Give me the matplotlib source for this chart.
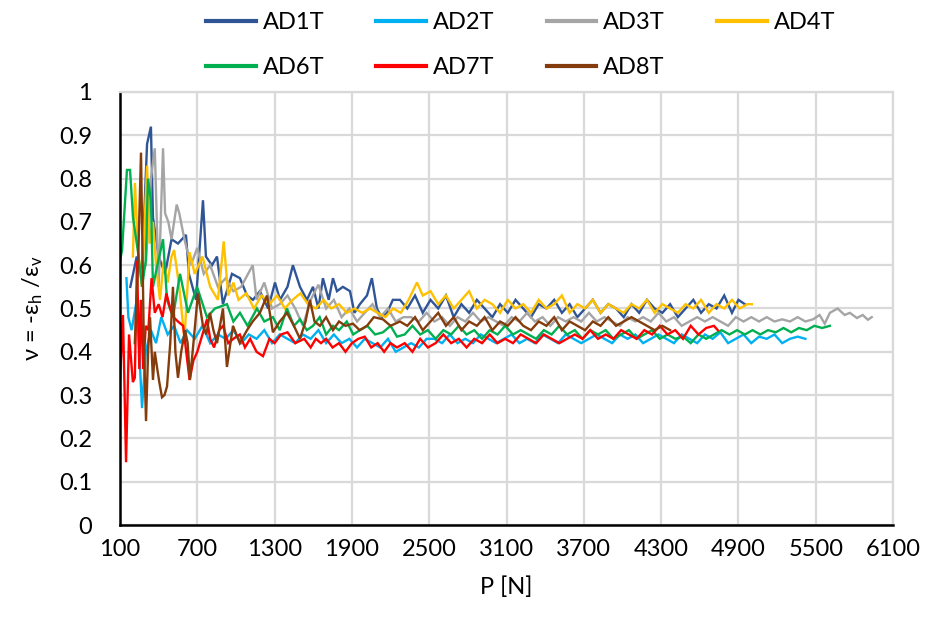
import matplotlib
matplotlib.use('Agg')
import matplotlib.pyplot as plt

plt.rcParams['font.family'] = ['Lato', 'DejaVu Sans']
plt.rcParams['mathtext.default'] = 'regular'

# ---- data (P in N, v = -eh/ev) ----
ad1t_p = [180, 230, 270, 310, 340, 356, 400, 450, 500, 550, 612, 635, 690, 744, 767, 814, 853, 899, 969, 1031,
          1086, 1132, 1186, 1250, 1303, 1342, 1400, 1442, 1497, 1551, 1598, 1640, 1675, 1720, 1753, 1784, 1830, 1885,
          1920, 1962, 2017, 2055, 2094, 2130, 2172, 2218, 2273,
          2330, 2390, 2450, 2510, 2570, 2630, 2690, 2750, 2810, 2870, 2930, 2990, 3050, 3110, 3170, 3230, 3290, 3350,
          3410, 3470, 3530, 3590, 3650, 3710, 3770, 3830, 3890, 3950, 4010, 4070, 4130, 4190, 4250, 4310, 4370, 4430,
          4490, 4550, 4610, 4670, 4730, 4790, 4850, 4900, 4950]
ad1t_v = [0.55, 0.62, 0.58, 0.88, 0.92, 0.71, 0.62, 0.58, 0.66, 0.65, 0.67, 0.58, 0.52, 0.75, 0.62, 0.60, 0.62, 0.51,
          0.58, 0.57, 0.53, 0.52, 0.54, 0.50, 0.56, 0.52, 0.55, 0.60, 0.55, 0.52, 0.55, 0.50, 0.57, 0.52, 0.57, 0.54,
          0.55, 0.54, 0.49, 0.51, 0.53, 0.57, 0.50, 0.48, 0.49, 0.52, 0.52,
          0.50, 0.53, 0.49, 0.52, 0.50, 0.53, 0.48, 0.51, 0.49, 0.52, 0.50, 0.48, 0.51, 0.49, 0.52, 0.50, 0.48, 0.51,
          0.50, 0.52, 0.49, 0.51, 0.48, 0.50, 0.52, 0.49, 0.51, 0.50, 0.48, 0.51, 0.49, 0.52, 0.50, 0.49, 0.51, 0.48,
          0.50, 0.52, 0.49, 0.51, 0.50, 0.53, 0.49, 0.52, 0.51]

ad2t_p = [150, 165, 190, 230, 271, 300, 340, 380, 420, 470, 520, 570, 620, 680, 740, 800, 860, 920, 980, 1040,
          1100, 1160, 1220, 1280, 1340, 1400, 1460, 1520, 1580, 1640, 1700, 1760, 1820, 1880, 1940, 2000, 2060, 2120,
          2180, 2240, 2300, 2360, 2420, 2480,
          2540, 2600, 2660, 2720, 2780, 2840, 2900, 2960, 3020, 3080, 3140, 3200, 3260, 3320, 3380, 3440, 3500, 3560,
          3620, 3680, 3740, 3800, 3860, 3920, 3980, 4040, 4100, 4160, 4220, 4280, 4340, 4400, 4460, 4520, 4580, 4640,
          4700, 4760, 4820, 4880, 4940, 5000, 5060, 5120, 5180, 5240, 5300, 5360, 5420]
ad2t_v = [0.57, 0.48, 0.45, 0.52, 0.27, 0.40, 0.45, 0.42, 0.48, 0.44, 0.46, 0.42, 0.45, 0.43, 0.46, 0.42, 0.44, 0.43,
          0.45, 0.42, 0.44, 0.43, 0.45, 0.42, 0.44, 0.43, 0.42, 0.44, 0.43, 0.45, 0.42, 0.44, 0.42, 0.43, 0.41, 0.43,
          0.42, 0.41, 0.43, 0.40, 0.41, 0.42, 0.41, 0.43,
          0.43, 0.42, 0.44, 0.42, 0.43, 0.42, 0.44, 0.43, 0.42, 0.43, 0.44, 0.42, 0.43, 0.42, 0.44, 0.43, 0.42, 0.44,
          0.43, 0.42, 0.43, 0.44, 0.43, 0.42, 0.44, 0.43, 0.44, 0.42, 0.43, 0.44, 0.43, 0.42, 0.44, 0.43, 0.42, 0.44,
          0.43, 0.445, 0.42, 0.43, 0.44, 0.42, 0.435, 0.43, 0.44, 0.42, 0.43, 0.435, 0.43]

ad3t_p = [300, 340, 370, 400, 434, 450, 475, 500, 540, 560, 600, 650, 700, 750, 800, 860, 920, 980, 1040, 1130,
          1160, 1220, 1280, 1340, 1400, 1460, 1520, 1580, 1640, 1700, 1760, 1820, 1880, 1940, 2000, 2060, 2120, 2180,
          2240, 2300,
          2360, 2420, 2480, 2540, 2600, 2660, 2720, 2780, 2840, 2900, 2960, 3020, 3080, 3140, 3200, 3260, 3320, 3380,
          3440, 3500, 3560, 3620, 3680, 3740, 3800, 3860, 3920, 3980, 4040, 4100, 4160, 4220, 4280, 4340, 4400, 4460,
          4520, 4580, 4640, 4700, 4760, 4820, 4880, 4940, 5000,
          5060, 5120, 5180, 5240, 5300, 5360, 5420, 5480, 5530, 5570, 5610, 5670, 5725, 5765, 5820, 5865, 5905, 5935]
ad3t_v = [0.60, 0.80, 0.87, 0.55, 0.87, 0.72, 0.70, 0.66, 0.74, 0.72, 0.66, 0.60, 0.64, 0.58, 0.60, 0.55, 0.57, 0.54,
          0.55, 0.60, 0.52, 0.56, 0.50, 0.51, 0.53, 0.50, 0.46, 0.52, 0.555, 0.50, 0.52, 0.48, 0.50, 0.47, 0.49, 0.51,
          0.48, 0.50, 0.47, 0.48,
          0.48, 0.47, 0.49, 0.47, 0.48, 0.46, 0.48, 0.47, 0.49, 0.47, 0.48, 0.47, 0.46, 0.48, 0.47, 0.49, 0.47, 0.48,
          0.46, 0.48, 0.47, 0.48, 0.47, 0.49, 0.47, 0.48, 0.47, 0.46, 0.48, 0.47, 0.48, 0.47, 0.49, 0.47, 0.48, 0.46,
          0.47, 0.48, 0.47, 0.48, 0.47, 0.46, 0.48, 0.47, 0.48,
          0.47, 0.48, 0.47, 0.475, 0.47, 0.48, 0.47, 0.475, 0.485, 0.465, 0.49, 0.50, 0.485, 0.49, 0.478, 0.485, 0.474,
          0.48]

ad4t_p = [200, 216, 240, 270, 310, 330, 356, 380, 410, 440, 470, 500, 520, 560, 600, 640, 680, 740, 800, 860,
          905, 940, 980, 1020, 1080, 1140, 1200, 1260, 1320, 1380, 1440, 1500, 1560, 1620, 1680, 1740, 1800, 1860,
          1920, 1980, 2040, 2100, 2160, 2220, 2280, 2340, 2405, 2450,
          2510, 2570, 2630, 2690, 2750, 2810, 2870, 2930, 2990, 3050, 3110, 3170, 3230, 3290, 3350, 3410, 3470, 3530,
          3590, 3650, 3710, 3770, 3830, 3890, 3950, 4010, 4070, 4130, 4190, 4250, 4310, 4370, 4430, 4490, 4550, 4610,
          4670, 4730, 4790, 4850, 4910, 4970, 5005]
ad4t_v = [0.62, 0.79, 0.635, 0.55, 0.83, 0.65, 0.70, 0.60, 0.52, 0.61, 0.56, 0.62, 0.635, 0.55, 0.43, 0.63, 0.58, 0.62,
          0.55, 0.52, 0.655, 0.53, 0.56, 0.52, 0.535, 0.50, 0.53, 0.51, 0.53, 0.50, 0.52, 0.535, 0.51, 0.50, 0.52, 0.50,
          0.51, 0.49, 0.50, 0.49, 0.50, 0.49, 0.48, 0.50, 0.49, 0.52, 0.56, 0.53,
          0.54, 0.51, 0.53, 0.50, 0.52, 0.54, 0.50, 0.52, 0.51, 0.49, 0.52, 0.50, 0.51, 0.49, 0.52, 0.50, 0.51, 0.53,
          0.49, 0.51, 0.50, 0.52, 0.49, 0.51, 0.50, 0.49, 0.51, 0.50, 0.52, 0.49, 0.51, 0.50, 0.49, 0.51, 0.50, 0.52,
          0.49, 0.51, 0.50, 0.52, 0.50, 0.51, 0.51]

ad6t_p = [100, 116, 154, 178, 201, 240, 271, 300, 317, 340, 356, 390, 434, 465, 511, 566, 628, 698, 775, 837,
          930, 980, 1031, 1090, 1163, 1220, 1287, 1340, 1396, 1450, 1497, 1550, 1598, 1650, 1700, 1753, 1800, 1860,
          1910, 1962, 2020, 2080, 2141, 2200, 2250,
          2310, 2370, 2430, 2490, 2550, 2610, 2670, 2730, 2790, 2850, 2910, 2970, 3030, 3090, 3150, 3210, 3270, 3330,
          3390, 3450, 3510, 3570, 3630, 3690, 3750, 3810, 3870, 3930, 3990, 4050, 4110, 4170, 4230, 4290, 4350, 4410,
          4470, 4530, 4590, 4650, 4710, 4770, 4830, 4890, 4950, 5010, 5070, 5130, 5190, 5250, 5310, 5370, 5430, 5490,
          5550, 5610]
ad6t_v = [0.61, 0.635, 0.82, 0.82, 0.71, 0.63, 0.55, 0.61, 0.80, 0.75, 0.55, 0.60, 0.66, 0.52, 0.48, 0.58, 0.49, 0.55,
          0.48, 0.50, 0.51, 0.47, 0.49, 0.46, 0.50, 0.47, 0.48, 0.45, 0.50, 0.46, 0.475, 0.45, 0.46, 0.48, 0.44, 0.46,
          0.45, 0.47, 0.44, 0.45, 0.46, 0.44, 0.445, 0.46, 0.435,
          0.44, 0.46, 0.44, 0.45, 0.43, 0.45, 0.44, 0.46, 0.44, 0.45, 0.43, 0.45, 0.44, 0.46, 0.44, 0.45, 0.44, 0.43,
          0.45, 0.44, 0.46, 0.44, 0.45, 0.43, 0.45, 0.44, 0.45, 0.43, 0.44, 0.45, 0.43, 0.44, 0.45, 0.43, 0.44, 0.43,
          0.435, 0.42, 0.44, 0.43, 0.44, 0.45, 0.44, 0.45, 0.44, 0.45, 0.44, 0.45, 0.445, 0.455, 0.445, 0.455, 0.45,
          0.46, 0.455, 0.46]

ad7t_p = [100, 123, 147, 170, 200, 215, 232, 250, 262, 280, 300, 320, 345, 370, 400, 430, 460, 490, 515, 550,
          590, 640, 670, 700, 740, 775, 800, 830, 870, 900, 940, 980, 1030, 1070, 1110, 1160, 1210, 1260, 1300, 1350,
          1400, 1460, 1530, 1580, 1620, 1660, 1700, 1750, 1800, 1850, 1900, 1950, 2000, 2050, 2100, 2150, 2200, 2250,
          2310, 2370, 2430, 2490, 2550, 2610, 2670, 2730, 2790, 2850, 2910, 2970, 3030, 3090, 3150, 3210, 3270, 3330,
          3390, 3450, 3510, 3570, 3630, 3690, 3750, 3810, 3870, 3930, 3990, 4050, 4110, 4170, 4230, 4290, 4350, 4410,
          4470, 4530, 4590, 4650, 4710, 4740]
ad7t_v = [0.335, 0.485, 0.145, 0.44, 0.33, 0.34, 0.61, 0.36, 0.52, 0.36, 0.46, 0.45, 0.57, 0.49, 0.51, 0.48, 0.535,
          0.50, 0.48, 0.47, 0.46, 0.335, 0.38, 0.40, 0.44, 0.475, 0.43, 0.41, 0.45, 0.46, 0.42, 0.43, 0.44, 0.41, 0.43,
          0.40, 0.39, 0.43, 0.42, 0.44, 0.445, 0.42, 0.43, 0.41, 0.43, 0.42, 0.43, 0.41, 0.42, 0.40, 0.42, 0.43, 0.435,
          0.41, 0.42, 0.40, 0.42, 0.41,
          0.42, 0.40, 0.43, 0.41, 0.42, 0.44, 0.42, 0.43, 0.41, 0.43, 0.42, 0.44, 0.42, 0.43, 0.42, 0.44, 0.43, 0.42,
          0.44, 0.43, 0.42, 0.43, 0.44, 0.43, 0.45, 0.43, 0.44, 0.43, 0.45, 0.44, 0.43, 0.45, 0.44, 0.46, 0.44, 0.45,
          0.43, 0.46, 0.44, 0.455, 0.46, 0.45]

ad8t_p = [215, 240, 263, 285, 302, 318, 333, 356, 370, 387, 405, 426, 445, 465, 490, 511, 530, 550, 575, 605,
          625, 643, 670, 705, 744, 770, 798, 825, 853, 899, 930, 977, 1030, 1086, 1130, 1186, 1241, 1287, 1340, 1396,
          1450, 1497, 1540, 1574, 1610, 1652, 1700, 1753, 1800, 1850, 1908, 1960, 2017, 2070, 2141, 2200, 2273,
          2330, 2390, 2450, 2510, 2570, 2630, 2690, 2750, 2810, 2870, 2930, 2990, 3050, 3110, 3170, 3230, 3290, 3350,
          3410, 3470, 3530, 3590, 3650, 3710, 3770, 3830, 3890, 3950, 4010, 4070, 4130, 4190, 4250, 4310, 4370]
ad8t_v = [0.42, 0.60, 0.86, 0.42, 0.24, 0.40, 0.48, 0.335, 0.40, 0.365, 0.33, 0.295, 0.30, 0.32, 0.42, 0.55, 0.40,
          0.34, 0.40, 0.45, 0.42, 0.335, 0.42, 0.535, 0.46, 0.44, 0.49, 0.45, 0.42, 0.50, 0.365, 0.46, 0.42, 0.45,
          0.47, 0.49, 0.53, 0.445, 0.47, 0.49, 0.46, 0.43, 0.47, 0.52, 0.47, 0.46, 0.48, 0.45, 0.47, 0.46, 0.465,
          0.45, 0.46, 0.48, 0.475, 0.46, 0.47,
          0.46, 0.48, 0.45, 0.47, 0.49, 0.46, 0.48, 0.45, 0.47, 0.46, 0.48, 0.45, 0.47, 0.46, 0.48, 0.46, 0.45, 0.47,
          0.46, 0.48, 0.45, 0.47, 0.46, 0.45, 0.47, 0.46, 0.48, 0.46, 0.47, 0.48, 0.47, 0.46, 0.45, 0.46, 0.45]

labels = ['AD1T', 'AD2T', 'AD3T', 'AD4T', 'AD6T', 'AD7T', 'AD8T']
colors = ['#2F5597', '#00B0F0', '#A5A5A5', '#FFC000', '#00B050', '#FF0000', '#843C0C']
x_ticks = [100, 700, 1300, 1900, 2500, 3100, 3700, 4300, 4900, 5500, 6100]
y_ticks = [0, 0.1, 0.2, 0.3, 0.4, 0.5, 0.6, 0.7, 0.8, 0.9, 1]
y_tick_labels = ['0', '0.1', '0.2', '0.3', '0.4', '0.5', '0.6', '0.7', '0.8', '0.9', '1']

series = [(ad1t_p, ad1t_v), (ad2t_p, ad2t_v), (ad3t_p, ad3t_v), (ad4t_p, ad4t_v),
          (ad6t_p, ad6t_v), (ad7t_p, ad7t_v), (ad8t_p, ad8t_v)]

fig = plt.figure(figsize=(9.27, 6.23), dpi=100)
ax = fig.add_axes([120 / 927, 1 - 525 / 623, 773 / 927, 433 / 623])

lines = []
for (p, v), lab, col in zip(series, labels, colors):
    ln, = ax.plot(p, v, color=col, lw=1.7, label=lab, solid_joinstyle='miter')
    lines.append(ln)

ax.set_xlim(100, 6100)
ax.set_ylim(0, 1)
ax.set_xticks(x_ticks)
ax.set_yticks(y_ticks)
ax.set_yticklabels(y_tick_labels)
ax.grid(True, color='#D9D9D9', lw=1.6)
ax.set_axisbelow(True)
ax.tick_params(axis='both', length=0, labelsize=17)
ax.tick_params(axis='y', pad=20)
ax.tick_params(axis='x', pad=10)
for s in ['top', 'right']:
    ax.spines[s].set_color('#D9D9D9')
    ax.spines[s].set_linewidth(1.6)
for s in ['left', 'bottom']:
    ax.spines[s].set_color('black')
    ax.spines[s].set_linewidth(1.8)

ax.set_xlabel('P [N]', fontsize=17, labelpad=12)
ax.set_ylabel(r'ν = -ε$_{h}$ /ε$_{v}$', fontsize=17, labelpad=10)

# legend filled column-wise, so reorder to get row-wise reading
order = [0, 4, 1, 5, 2, 6, 3]
fig.legend([lines[i] for i in order], [labels[i] for i in order],
           loc='upper left', bbox_to_anchor=(185 / 927, 1.0145), ncol=4, frameon=False,
           fontsize=17, handlelength=2.1, handletextpad=0.3, columnspacing=2.2,
           labelspacing=1.0)
for h in fig.legends[0].get_lines():
    h.set_linewidth(3)

fig.savefig('out.png', dpi=100)
